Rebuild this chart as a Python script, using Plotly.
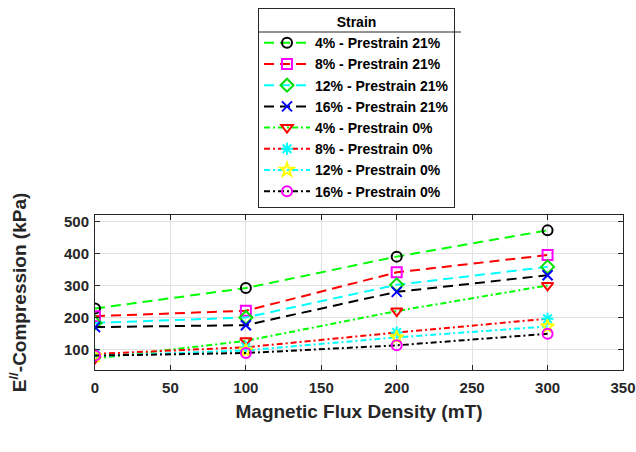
import plotly.graph_objects as go

flux = [0, 100, 200, 300]
s4_p21 = [228, 292, 390, 472]
s8_p21 = [204, 221, 341, 395]
s12_p21 = [183, 200, 302, 358]
s16_p21 = [170, 176, 280, 332]
s4_p0 = [72, 127, 220, 300]
s8_p0 = [86, 107, 153, 196]
s12_p0 = [80, 97, 138, 172]
s16_p0 = [81, 89, 113, 149]

names = ["4% - Prestrain 21%", "8% - Prestrain 21%", "12% - Prestrain 21%", "16% - Prestrain 21%",
         "4% - Prestrain 0%", "8% - Prestrain 0%", "12% - Prestrain 0%", "16% - Prestrain 0%"]
series = [s4_p21, s8_p21, s12_p21, s16_p21, s4_p0, s8_p0, s12_p0, s16_p0]
line_colors = ["#00ff00", "#ff0000", "#00ffff", "#000000", "#00ff00", "#ff0000", "#00ffff", "#000000"]
marker_colors = ["#000000", "#ff00ff", "#00dd00", "#0000ff", "#ff0000", "#00ffff", "#ffff00", "#ff00ff"]
symbols = ["circle-open", "square-open", "diamond-open", "x-thin-open",
           "triangle-down-open", "asterisk-open", "star-open", "circle-open"]
dashes = ["10px,6px"] * 4 + ["6px,3px,2px,3px"] * 4

fig = go.Figure()
for n, s, lc, mc, sym, d in zip(names, series, line_colors, marker_colors, symbols, dashes):
    fig.add_trace(go.Scatter(
        x=flux, y=s, name=n, mode="lines+markers",
        line=dict(color=lc, width=2, dash=d),
        marker=dict(symbol=sym, color=mc, size=10, line=dict(color=mc, width=2)),
    ))

font_fam = "Liberation Sans, Arial, sans-serif"
axis_common = dict(
    showline=True, linecolor="#262626", linewidth=1, mirror="ticks",
    ticks="inside", ticklen=5, tickcolor="#262626",
    showgrid=True, gridcolor="#e3e3e3", gridwidth=1, zeroline=False,
    tickfont=dict(family=font_fam, size=15, color="#262626", weight="bold"),
)

L, R, T, B = 95, 623, 215, 370
W, H = R - L, B - T

fig.update_layout(
    width=636, height=452,
    paper_bgcolor="white", plot_bgcolor="white",
    margin=dict(l=L, r=636 - R, t=T, b=452 - B, autoexpand=False),
    font=dict(family=font_fam, color="#262626"),
    xaxis=dict(range=[0, 350], tickvals=[0, 50, 100, 150, 200, 250, 300, 350],
               ticklabelstandoff=4,
               title=dict(text="Magnetic Flux Density (mT)", standoff=9,
                          font=dict(family=font_fam, size=19, color="#262626", weight="bold")),
               **axis_common),
    yaxis=dict(range=[36, 520], tickvals=[100, 200, 300, 400, 500],
               ticklabelstandoff=2,
               title=dict(text="E<sup>//</sup>-Compression (kPa)", standoff=32,
                          font=dict(family=font_fam, size=19, color="#262626", weight="bold")),
               **axis_common),
    legend=dict(
        xref="paper", yref="paper", x=(258 - L) / W, y=(B - 8) / H,
        xanchor="left", yanchor="top",
        bgcolor="rgba(255,255,255,0)", bordercolor="#262626", borderwidth=1,
        font=dict(family=font_fam, size=14, color="#000000", weight="bold"),
        title=dict(text="Strain", side="top center",
                   font=dict(family=font_fam, size=14, color="#000000", weight="bold")),
        tracegroupgap=0, itemwidth=46, entrywidth=145, entrywidthmode="pixels",
    ),
    showlegend=True,
)

fig.add_shape(type="line", xref="paper", yref="paper",
              x0=(258 - L) / W, x1=(461 - L) / W,
              y0=(B - 32) / H, y1=(B - 32) / H,
              line=dict(color="#262626", width=1))

fig.write_html("out.html", config={"displayModeBar": False},
               post_script="document.body.style.margin='0';document.body.style.overflow='hidden';")
